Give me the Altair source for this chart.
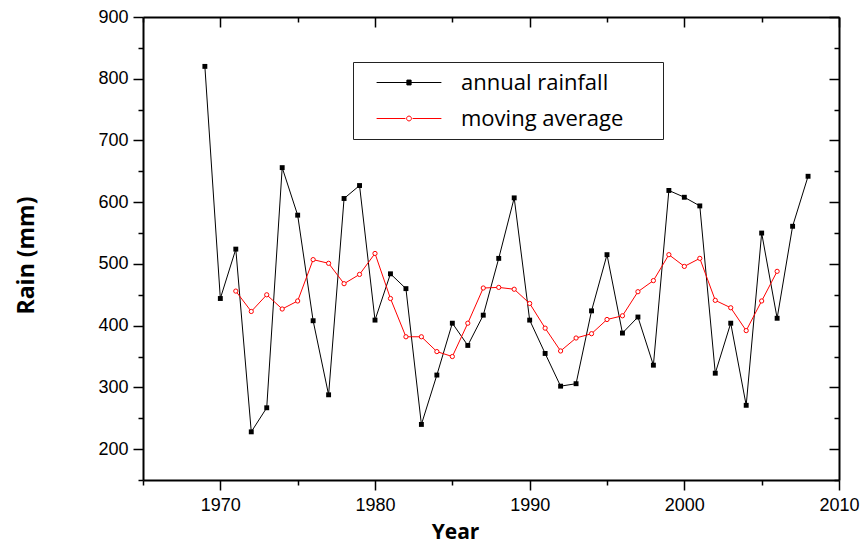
import altair as alt
import pandas as pd

# Annual rainfall, 1969-2008 (mm)
years = [1969, 1970, 1971, 1972, 1973, 1974, 1975, 1976, 1977, 1978,
         1979, 1980, 1981, 1982, 1983, 1984, 1985, 1986, 1987, 1988,
         1989, 1990, 1991, 1992, 1993, 1994, 1995, 1996, 1997, 1998,
         1999, 2000, 2001, 2002, 2003, 2004, 2005, 2006, 2007, 2008]
annual_rainfall = [820, 444, 524, 228, 267, 656, 579, 408, 288, 606,
                   627, 409, 484, 460, 240, 320, 404, 368, 417, 509,
                   607, 409, 355, 302, 306, 424, 515, 388, 414, 336,
                   619, 608, 594, 323, 404, 271, 550, 412, 561, 642]

# Five-year centred moving average, 1971-2006 (mm)
avg_years = [1971, 1972, 1973, 1974, 1975, 1976, 1977, 1978, 1979, 1980,
             1981, 1982, 1983, 1984, 1985, 1986, 1987, 1988, 1989, 1990,
             1991, 1992, 1993, 1994, 1995, 1996, 1997, 1998, 1999, 2000,
             2001, 2002, 2003, 2004, 2005, 2006]
moving_average = [456, 423, 450, 427, 440, 507, 501, 468, 483, 517,
                  444, 382, 382, 358, 350, 404, 461, 462, 459, 436,
                  396, 359, 380, 387, 410, 416, 455, 473, 515, 496,
                  509, 441, 429, 392, 440, 488]

series_names = ["annual rainfall", "moving average"]

x_major = [1970, 1980, 1990, 2000, 2010]
x_minor = [1965, 1975, 1985, 1995, 2005]
y_major = [200, 300, 400, 500, 600, 700, 800, 900]
y_minor = [150, 250, 350, 450, 550, 650, 750, 850]

annual = pd.DataFrame({"year": years, "rain": annual_rainfall})
avg = pd.DataFrame({"year": avg_years, "rain": moving_average})
keys = pd.DataFrame({"series": series_names})

TICK_FONT = "Liberation Sans, Arial, sans-serif"
TEXT_FONT = "Open Sans, sans-serif"

x_scale = alt.Scale(domain=[1965, 2010], nice=False, zero=False)
y_scale = alt.Scale(domain=[150, 900], nice=False, zero=False)

frame = dict(grid=False, domainColor="black", domainWidth=2,
             tickColor="black", tickWidth=1.5)

# Bottom / left: outward ticks with labels
x_bottom = alt.Axis(orient="bottom", values=x_major, format="d", tickSize=10,
                    labelPadding=6, labelFont=TICK_FONT, labelFontSize=18,
                    labelColor="black", labelFlush=False, labelOverlap=False,
                    title="Year", titleFont=TEXT_FONT, titleFontSize=21,
                    titleFontWeight="bold", titleColor="black",
                    titleX=312, titleY=58, titleAlign="center",
                    titleBaseline="alphabetic", **frame)
x_bottom_minor = alt.Axis(orient="bottom", values=x_minor, tickSize=5,
                          labels=False, domain=False, title=None, **frame)
y_left = alt.Axis(orient="left", values=y_major, format="d", tickSize=10,
                  labelPadding=5, labelFont=TICK_FONT, labelFontSize=18,
                  labelColor="black", labelFlush=False, labelOverlap=False,
                  title="Rain (mm)", titleFont=TEXT_FONT, titleFontSize=23,
                  titleFontWeight="bold", titleColor="black", titleAngle=270,
                  titleX=-110, titleY=238, titleAlign="center",
                  titleBaseline="alphabetic", **frame)
y_left_minor = alt.Axis(orient="left", values=y_minor, tickSize=5,
                        labels=False, domain=False, title=None, **frame)

# Top / right: mirrored frame with inward ticks
x_top = alt.Axis(orient="top", values=x_major, tickSize={"expr": "-10"},
                 labels=False, title=None, **frame)
x_top_minor = alt.Axis(orient="top", values=x_minor, tickSize={"expr": "-5"},
                       labels=False, domain=False, title=None, **frame)
y_right = alt.Axis(orient="right", values=y_major, tickSize={"expr": "-10"},
                   labels=False, title=None, **frame)
y_right_minor = alt.Axis(orient="right", values=y_minor, tickSize={"expr": "-5"},
                         labels=False, domain=False, title=None, **frame)


def pos(x_axis, y_axis):
    return dict(x=alt.X("year:Q", scale=x_scale, axis=x_axis),
                y=alt.Y("rain:Q", scale=y_scale, axis=y_axis))


line_annual = alt.Chart(annual).mark_line(color="black", strokeWidth=1).encode(
    **pos(x_bottom, y_left))
pts_annual = alt.Chart(annual).mark_point(
    shape="square", filled=True, color="black", size=24, opacity=1
).encode(**pos(x_top, y_right))
line_avg = alt.Chart(avg).mark_line(color="red", strokeWidth=1).encode(
    **pos(x_bottom_minor, y_left_minor))
pts_avg = alt.Chart(avg).mark_point(
    shape="circle", stroke="red", fill="white", fillOpacity=1,
    strokeWidth=1, size=18, opacity=1
).encode(**pos(x_top_minor, y_right_minor))

# Legend keys: a line segment with the series marker in its middle
SQUARE_KEY = "M-1,0H1M-0.065,-0.075H0.065V0.075H-0.065Z"
CIRCLE_KEY = ("M-1,0H-0.11M0.11,0H1M0.075,0"
              "A0.075,0.075,0,1,1,-0.075,0A0.075,0.075,0,1,1,0.075,0Z")

# blank (non-whitespace) glyphs that widen the legend frame to the right
PAD = "\u2800" * 2

legend = alt.Legend(title=None, orient="none", legendX=210, legendY=45,
                    symbolSize=4200, symbolStrokeWidth=1, symbolOffset=16,
                    labelOffset=19, labelFont=TEXT_FONT, labelFontSize=22,
                    labelColor="black", labelLimit=600,
                    labelExpr=f"datum.label + '{PAD}'",
                    padding=7, clipHeight=27, rowPadding=9,
                    strokeColor="#222222", fillColor="white")

key = alt.Chart(keys).transform_filter("false").mark_point(
    opacity=1, size=4200, strokeWidth=1
).encode(
    shape=alt.Shape("series:N", legend=legend,
                    scale=alt.Scale(domain=series_names, range=[SQUARE_KEY, CIRCLE_KEY])),
    fill=alt.Fill("series:N", legend=legend,
                  scale=alt.Scale(domain=series_names, range=["black", "white"])),
    stroke=alt.Stroke("series:N", legend=legend,
                      scale=alt.Scale(domain=series_names, range=["black", "red"])),
)

chart = alt.layer(line_annual, pts_annual, line_avg, pts_avg, key).resolve_axis(
    x="independent", y="independent"
).properties(
    width=696, height=463,
    autosize=alt.AutoSizeParams(type="none"),
    padding={"left": 143, "top": 17, "right": 26, "bottom": 64},
    background="white",
).configure_view(strokeOpacity=0)

chart.save("out.html", embed_options={"renderer": "svg", "actions": False})
